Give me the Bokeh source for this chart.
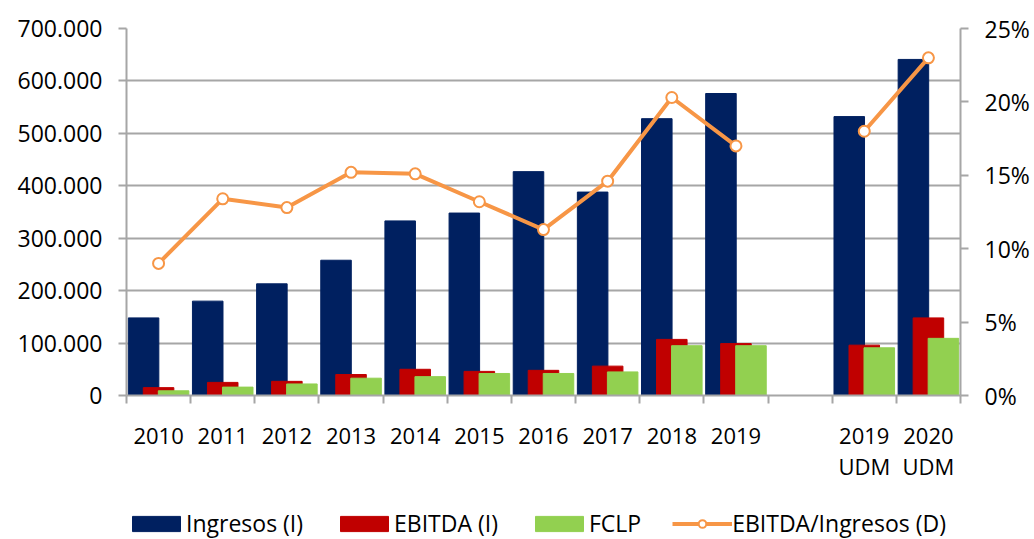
from bokeh.plotting import figure
from bokeh.layouts import column
from bokeh.models import (Range1d, LinearAxis, FixedTicker, NumeralTickFormatter,
                          Legend, LegendItem, ColumnDataSource)
from bokeh.embed import file_html
from bokeh.resources import INLINE

# ---- data ----
categories = ["2010", "2011", "2012", "2013", "2014", "2015", "2016", "2017",
              "2018", "2019", "2019\nUDM", "2020\nUDM"]
ingresos = [148000, 180000, 213000, 258000, 333000, 348000, 427000, 388000,
            528000, 576000, 532000, 641000]
ebitda = [15000, 25000, 27000, 40000, 50000, 46000, 48000, 56000,
          107000, 99000, 96000, 148000]
fclp = [9000, 16000, 22000, 33000, 36000, 42000, 42000, 45000,
        95000, 95000, 91000, 109000]
ratio = [0.090, 0.134, 0.128, 0.152, 0.151, 0.132, 0.113, 0.146,
         0.203, 0.170, 0.180, 0.230]
gap_after = 9  # blank slot after "2019"
left_ticks = [0, 100000, 200000, 300000, 400000, 500000, 600000, 700000]
left_labels = ["0", "100.000", "200.000", "300.000", "400.000", "500.000",
               "600.000", "700.000"]
right_ticks = [0, 0.05, 0.10, 0.15, 0.20, 0.25]
series_names = ["Ingresos (I)", "EBITDA (I)", "FCLP", "EBITDA/Ingresos (D)"]

FONT = "Open Sans"
FS_X = "22px"
FS_Y = "23px"
FS_L = "23px"
GRAY = "#A6A6A6"
C_ING, C_EBI, C_FCL, C_RAT = "#002060", "#C00000", "#92D050", "#F79646"

slots = [i if i <= gap_after else i + 1 for i in range(len(categories))]
n_slots = len(categories) + 1
centers = [s + 0.5 for s in slots]
off = 0.234
bw = 0.476

src = ColumnDataSource(dict(
    xi=[c - off for c in centers],
    xe=centers,
    xf=[c + off for c in centers],
    ing=ingresos, ebi=ebitda, fcl=fclp,
))

line_x, line_y = [], []
for i, (c, r) in enumerate(zip(centers, ratio)):
    line_x.append(c)
    line_y.append(r)
    if i == gap_after:
        line_x.append(float("nan"))
        line_y.append(float("nan"))
line_src = ColumnDataSource(dict(x=line_x, y=line_y))
pts_src = ColumnDataSource(dict(x=centers, y=ratio))


def draw_series(fig, y_name):
    r1 = fig.vbar(x="xi", top="ing", width=bw, source=src, color=C_ING)
    r2 = fig.vbar(x="xe", top="ebi", width=bw, source=src, color=C_EBI)
    r3 = fig.vbar(x="xf", top="fcl", width=bw, source=src, color=C_FCL)
    r4 = fig.line(x="x", y="y", source=line_src, y_range_name=y_name,
                  line_color=C_RAT, line_width=4)
    r5 = fig.scatter(x="x", y="y", source=pts_src, y_range_name=y_name,
                     size=11, fill_color="white", line_color=C_RAT,
                     line_width=2)
    return r1, r2, r3, r4, r5


p = figure(width=1034, height=484, output_backend="svg", toolbar_location=None,
           x_range=Range1d(0, n_slots), y_range=Range1d(0, 700000),
           min_border_left=126, min_border_right=74, min_border_top=28,
           min_border_bottom=80)
p.outline_line_color = None
p.extra_y_ranges = {"pct": Range1d(0, 0.25)}
draw_series(p, "pct")

# x axis
xa = p.xaxis[0]
xa.ticker = FixedTicker(ticks=centers, minor_ticks=list(range(n_slots + 1)))
xa.major_label_overrides = {c: lab for c, lab in zip(centers, categories)}
xa.major_tick_out = 0
xa.major_tick_in = 0
xa.minor_tick_out = 8
xa.minor_tick_in = 0
xa.minor_tick_line_color = GRAY
xa.minor_tick_line_width = 2
xa.axis_line_color = GRAY
xa.axis_line_width = 2
xa.major_label_standoff = 16
xa.major_label_text_font = FONT
xa.major_label_text_font_size = FS_X
xa.major_label_text_color = "black"
xa.major_label_text_line_height = 1.05

# left axis
ya = p.yaxis[0]
ya.ticker = FixedTicker(ticks=left_ticks)
ya.major_label_overrides = {t: l for t, l in zip(left_ticks, left_labels)}
ya.minor_tick_line_color = None
ya.major_tick_out = 8
ya.major_tick_in = 0
ya.major_tick_line_color = GRAY
ya.major_tick_line_width = 2
ya.axis_line_color = GRAY
ya.axis_line_width = 2
ya.major_label_standoff = 16
ya.major_label_text_font = FONT
ya.major_label_text_font_size = FS_Y
ya.major_label_text_color = "black"

# right axis
ra = LinearAxis(y_range_name="pct", ticker=FixedTicker(ticks=right_ticks),
                formatter=NumeralTickFormatter(format="0%"))
ra.minor_tick_line_color = None
ra.major_tick_out = 8
ra.major_tick_in = 0
ra.major_tick_line_color = GRAY
ra.major_tick_line_width = 2
ra.axis_line_color = GRAY
ra.axis_line_width = 2
ra.major_label_standoff = 16
ra.major_label_text_font = FONT
ra.major_label_text_font_size = FS_Y
ra.major_label_text_color = "black"
p.add_layout(ra, "right")

p.xgrid.grid_line_color = None
p.ygrid.ticker = FixedTicker(ticks=left_ticks)
p.ygrid.grid_line_color = GRAY
p.ygrid.grid_line_width = 2

# ---- legend strip (same series, ranges chosen so no mark falls inside) ----
lg = figure(width=1034, height=55, output_backend="svg", toolbar_location=None,
            x_range=Range1d(-1001, -1000), y_range=Range1d(1e9, 1e9 + 1),
            x_axis_type=None, y_axis_type=None,
            min_border_left=126, min_border_right=74, min_border_top=0,
            min_border_bottom=0)
lg.extra_y_ranges = {"pct": Range1d(1e9, 1e9 + 1)}
lg.outline_line_color = None
lg.grid.visible = False
g = draw_series(lg, "pct")

legend = Legend(items=[
    LegendItem(label=series_names[0], renderers=[g[0]]),
    LegendItem(label=series_names[1], renderers=[g[1]]),
    LegendItem(label=series_names[2], renderers=[g[2]]),
    LegendItem(label=series_names[3], renderers=[g[3], g[4]]),
], orientation="horizontal", location=(0, 0))
legend.border_line_color = None
legend.background_fill_alpha = 0
legend.padding = 0
legend.margin = 0
legend.spacing = 31
legend.glyph_width = 60
legend.glyph_height = 19
legend.label_standoff = 0
legend.label_text_font = FONT
legend.label_text_font_size = FS_L
legend.label_text_color = "black"
legend.label_height = 20
lg.add_layout(legend, "center")

layout = column(p, lg, spacing=0)
open("out.html", "w").write(file_html(layout, INLINE))
